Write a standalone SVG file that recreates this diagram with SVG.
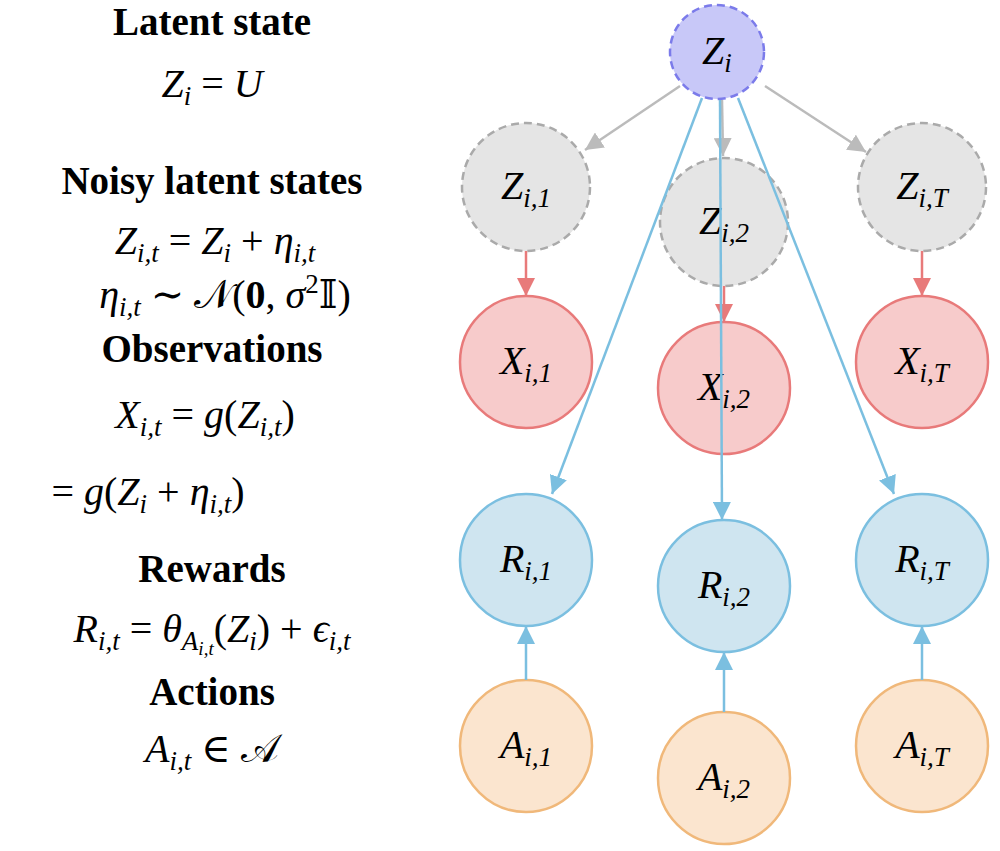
<svg xmlns="http://www.w3.org/2000/svg" width="1000" height="851" viewBox="0 0 1000 851">
<style>
text{font-family:"Liberation Serif","DejaVu Serif",serif;font-size:40px;fill:#000}
.b{font-weight:bold;font-size:39px}
.m{font-style:italic}
.s{font-size:27px}
.ss{font-size:19px}
.zl{fill:#c8c8f8;stroke:#7b7bea;stroke-width:2.5;stroke-dasharray:8,5}
.zn{fill:#e5e5e5;stroke:#aaaaaa;stroke-width:2.5;stroke-dasharray:8,5}
.x{fill:#f7cbcb;stroke:#e87a7a;stroke-width:2.5}
.r{fill:#cfe5f0;stroke:#7bbfe0;stroke-width:2.5}
.a{fill:#fbe5cf;stroke:#f0b87a;stroke-width:2.5}
.eg{stroke:#bbbbbb;stroke-width:2.5;fill:none}
.er{stroke:#e87a7a;stroke-width:2.5;fill:none}
.eb{stroke:#7bbfe0;stroke-width:2.5;fill:none}
</style>
<defs>
<marker id="mr" viewBox="0 0 10 10" refX="10" refY="5" markerWidth="18" markerHeight="18" markerUnits="userSpaceOnUse" orient="auto"><path d="M0,0 L10,5 L0,10z" fill="#e87a7a"/></marker>
<marker id="mb" viewBox="0 0 10 10" refX="10" refY="5" markerWidth="18" markerHeight="18" markerUnits="userSpaceOnUse" orient="auto"><path d="M0,0 L10,5 L0,10z" fill="#7bbfe0"/></marker>
<marker id="mg2" viewBox="0 0 10 10" refX="10" refY="5" markerWidth="18" markerHeight="18" markerUnits="userSpaceOnUse" orient="auto"><path d="M0,0 L10,5 L0,10z" fill="#bbbbbb"/></marker>
</defs>
<g id="legend" text-anchor="middle">
<text class="b" x="212" y="35">Latent state</text>
<text x="212" y="97"><tspan class="m">Z</tspan><tspan class="m s" dy="8">i</tspan><tspan dy="-8"> = </tspan><tspan class="m">U</tspan></text>
<text class="b" x="212" y="194">Noisy latent states</text>
<text x="215" y="254"><tspan class="m">Z</tspan><tspan class="m s" dy="8">i,t</tspan><tspan dy="-8"> = </tspan><tspan class="m">Z</tspan><tspan class="m s" dy="8">i</tspan><tspan dy="-8"> + </tspan><tspan class="m">η</tspan><tspan class="m s" dy="8">i,t</tspan></text>
<text x="225" y="308"><tspan class="m">η</tspan><tspan class="m s" dy="8">i,t</tspan><tspan dy="-8"> ∼ 𝒩(</tspan><tspan font-weight="bold">0</tspan><tspan>, </tspan><tspan class="m">σ</tspan><tspan class="s" dy="-15">2</tspan><tspan dy="15">𝕀)</tspan></text>
<text class="b" x="212" y="362">Observations</text>
<text x="205" y="428"><tspan class="m">X</tspan><tspan class="m s" dy="8">i,t</tspan><tspan dy="-8"> = </tspan><tspan class="m">g</tspan><tspan>(</tspan><tspan class="m">Z</tspan><tspan class="m s" dy="8">i,t</tspan><tspan dy="-8">)</tspan></text>
<text x="148" y="505"><tspan>= </tspan><tspan class="m">g</tspan><tspan>(</tspan><tspan class="m">Z</tspan><tspan class="m s" dy="8">i</tspan><tspan dy="-8"> + </tspan><tspan class="m">η</tspan><tspan class="m s" dy="8">i,t</tspan><tspan dy="-8">)</tspan></text>
<text class="b" x="212" y="582">Rewards</text>
<text x="212" y="642"><tspan class="m">R</tspan><tspan class="m s" dy="8">i,t</tspan><tspan dy="-8"> = </tspan><tspan class="m">θ</tspan><tspan class="m s" dy="8">A</tspan><tspan class="m ss" dy="5">i,t</tspan><tspan dy="-13">(</tspan><tspan class="m">Z</tspan><tspan class="m s" dy="8">i</tspan><tspan dy="-8">) + </tspan><tspan class="m">ϵ</tspan><tspan class="m s" dy="8">i,t</tspan></text>
<text class="b" x="212" y="705">Actions</text>
<text x="212" y="762"><tspan class="m">A</tspan><tspan class="m s" dy="8">i,t</tspan><tspan dy="-8"> ∈ 𝒜</tspan></text>
</g>
<g id="Zi"><circle class="zl" cx="717" cy="52" r="47"/><text x="717" y="64" text-anchor="middle"><tspan class="m">Z</tspan><tspan class="m s" dy="8">i</tspan></text></g>
<g id="Z1"><circle class="zn" cx="526" cy="187" r="64"/><text x="526" y="199" text-anchor="middle"><tspan class="m">Z</tspan><tspan class="m s" dy="8">i,1</tspan></text></g>
<g id="Z2"><circle class="zn" cx="724" cy="222" r="64"/><text x="724" y="234" text-anchor="middle"><tspan class="m">Z</tspan><tspan class="m s" dy="8">i,2</tspan></text></g>
<g id="ZT"><circle class="zn" cx="922" cy="187" r="64"/><text x="922" y="199" text-anchor="middle"><tspan class="m">Z</tspan><tspan class="m s" dy="8">i,T</tspan></text></g>
<g id="X1"><circle class="x" cx="526" cy="362" r="66"/><text x="526" y="374" text-anchor="middle"><tspan class="m">X</tspan><tspan class="m s" dy="8">i,1</tspan></text></g>
<g id="X2"><circle class="x" cx="724" cy="388" r="66"/><text x="724" y="400" text-anchor="middle"><tspan class="m">X</tspan><tspan class="m s" dy="8">i,2</tspan></text></g>
<g id="XT"><circle class="x" cx="922" cy="362" r="66"/><text x="922" y="374" text-anchor="middle"><tspan class="m">X</tspan><tspan class="m s" dy="8">i,T</tspan></text></g>
<g id="R1"><circle class="r" cx="526" cy="560" r="66"/><text x="526" y="572" text-anchor="middle"><tspan class="m">R</tspan><tspan class="m s" dy="8">i,1</tspan></text></g>
<g id="R2"><circle class="r" cx="724" cy="586" r="66"/><text x="724" y="598" text-anchor="middle"><tspan class="m">R</tspan><tspan class="m s" dy="8">i,2</tspan></text></g>
<g id="RT"><circle class="r" cx="922" cy="560" r="66"/><text x="922" y="572" text-anchor="middle"><tspan class="m">R</tspan><tspan class="m s" dy="8">i,T</tspan></text></g>
<g id="A1"><circle class="a" cx="526" cy="746" r="66"/><text x="526" y="758" text-anchor="middle"><tspan class="m">A</tspan><tspan class="m s" dy="8">i,1</tspan></text></g>
<g id="A2"><circle class="a" cx="724" cy="778" r="66"/><text x="724" y="790" text-anchor="middle"><tspan class="m">A</tspan><tspan class="m s" dy="8">i,2</tspan></text></g>
<g id="AT"><circle class="a" cx="922" cy="746" r="66"/><text x="922" y="758" text-anchor="middle"><tspan class="m">A</tspan><tspan class="m s" dy="8">i,T</tspan></text></g>
<g id="connectors">
<line class="eg" x1="680" y1="86" x2="585" y2="150" marker-end="url(#mg2)"/>
<line class="eg" x1="722" y1="100" x2="723" y2="156" marker-end="url(#mg2)"/>
<line class="eg" x1="765" y1="86" x2="866" y2="152" marker-end="url(#mg2)"/>
<line class="er" x1="526" y1="251" x2="526" y2="296" marker-end="url(#mr)"/>
<line class="er" x1="724" y1="286" x2="724" y2="322" marker-end="url(#mr)"/>
<line class="er" x1="922" y1="251" x2="922" y2="296" marker-end="url(#mr)"/>
<line class="eb" x1="702" y1="98" x2="552" y2="494" marker-end="url(#mb)"/>
<line class="eb" x1="720" y1="100" x2="722" y2="520" marker-end="url(#mb)"/>
<line class="eb" x1="738" y1="98" x2="894" y2="494" marker-end="url(#mb)"/>
<line class="eb" x1="526" y1="680" x2="526" y2="626" marker-end="url(#mb)"/>
<line class="eb" x1="724" y1="712" x2="724" y2="652" marker-end="url(#mb)"/>
<line class="eb" x1="922" y1="680" x2="922" y2="626" marker-end="url(#mb)"/>
</g>
</svg>
